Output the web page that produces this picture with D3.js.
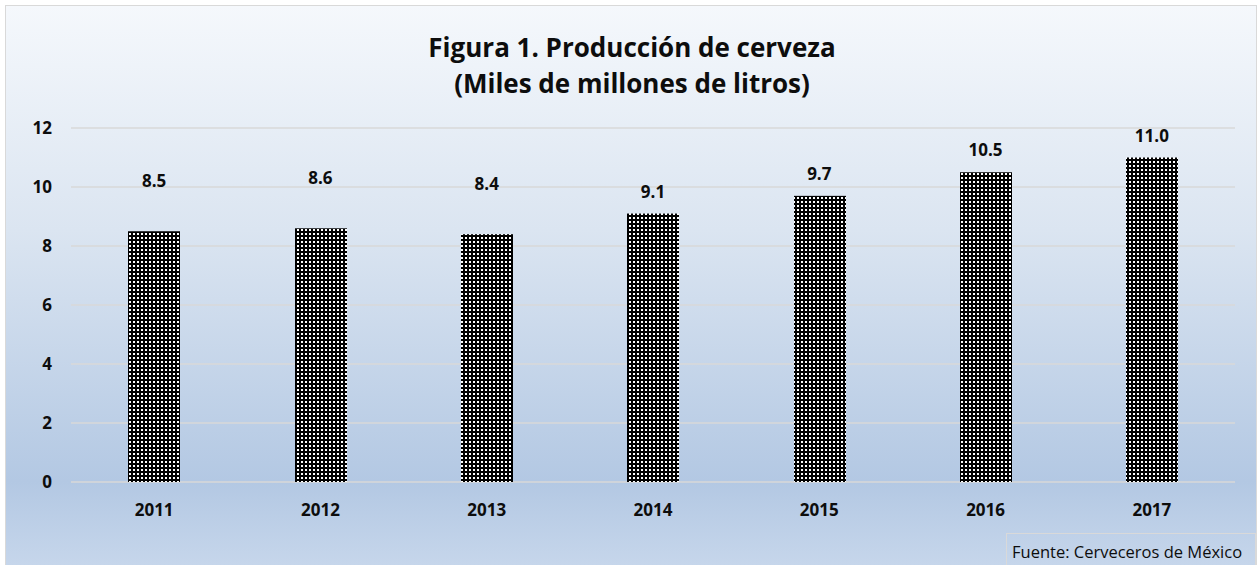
<!DOCTYPE html>
<html>
<head>
<meta charset="utf-8">
<script src="https://cdn.jsdelivr.net/npm/d3@7"></script>
<style>
  body { margin: 0; background: #fff; }
  text { font-family: "Open Sans", "Noto Sans", sans-serif; }
</style>
</head>
<body>
<script>
// data
var years = ['2011', '2012', '2013', '2014', '2015', '2016', '2017'];
var production = [8.5, 8.6, 8.4, 9.1, 9.7, 10.5, 11.0];
var yTicks = [0, 2, 4, 6, 8, 10, 12];

var width = 1257, height = 565;

// plot area (note: "top" is a read-only global in browsers, so use other names)
var plotLeft = 71, plotRight = 1235, plotTop = 128, plotBottom = 482;

var svg = d3.select('body').append('svg')
    .attr('width', width)
    .attr('height', height);

var defs = svg.append('defs');

// background gradient, light at the top, bluer toward the bottom
var grad = defs.append('linearGradient')
    .attr('id', 'bg')
    .attr('x1', 0).attr('y1', 0).attr('x2', 0).attr('y2', 1);
grad.append('stop').attr('offset', '0%').attr('stop-color', '#f5f8fc');
grad.append('stop').attr('offset', '40%').attr('stop-color', '#dbe5f1');
grad.append('stop').attr('offset', '85%').attr('stop-color', '#b3c8e3');
grad.append('stop').attr('offset', '100%').attr('stop-color', '#c6d6eb');

// dotted fill: black with small white squares
var pat = defs.append('pattern')
    .attr('id', 'dots')
    .attr('patternUnits', 'userSpaceOnUse')
    .attr('width', 4).attr('height', 4);
pat.append('rect').attr('width', 4).attr('height', 4).attr('fill', '#000');
pat.append('rect').attr('x', 1).attr('y', 1).attr('width', 2).attr('height', 2).attr('fill', '#fff');

svg.append('rect')
    .attr('x', 5.5).attr('y', 5.5)
    .attr('width', width - 6).attr('height', height - 5)
    .attr('fill', 'url(#bg)')
    .attr('stroke', '#d9d9d9');

var x = d3.scaleBand()
    .domain(years)
    .range([plotLeft, plotRight])
    .paddingInner(0.69)
    .paddingOuter(0.345);

var y = d3.scaleLinear()
    .domain([0, 12])
    .range([plotBottom, plotTop]);

// gridlines
svg.append('g')
    .selectAll('line')
    .data(yTicks)
    .enter().append('line')
    .attr('x1', plotLeft).attr('x2', plotRight)
    .attr('y1', function(d) { return y(d); })
    .attr('y2', function(d) { return y(d); })
    .attr('stroke', '#d9d9d9')
    .attr('stroke-width', 1.3);

// y axis labels
svg.append('g')
    .selectAll('text')
    .data(yTicks)
    .enter().append('text')
    .attr('x', 52)
    .attr('y', function(d) { return y(d) + 6; })
    .attr('text-anchor', 'end')
    .attr('font-size', 17)
    .attr('font-weight', 'bold')
    .attr('fill', '#0d0d0d')
    .text(function(d) { return d; });

// bars
svg.append('g')
    .selectAll('rect')
    .data(production)
    .enter().append('rect')
    .attr('x', function(d, i) { return Math.round(x(years[i])); })
    .attr('y', function(d) { return y(d); })
    .attr('width', Math.round(x.bandwidth()))
    .attr('height', function(d) { return y(0) - y(d); })
    .attr('fill', 'url(#dots)');

// value labels; the first three were dragged up by hand in the original
var labelGap = [44, 44, 44, 16, 16, 16, 16];
svg.append('g')
    .selectAll('text')
    .data(production)
    .enter().append('text')
    .attr('x', function(d, i) { return x(years[i]) + x.bandwidth() / 2; })
    .attr('y', function(d, i) { return y(d) - labelGap[i]; })
    .attr('text-anchor', 'middle')
    .attr('font-size', 17)
    .attr('font-weight', 'bold')
    .attr('fill', '#0d0d0d')
    .text(function(d) { return d.toFixed(1); });

// category labels
svg.append('g')
    .selectAll('text')
    .data(years)
    .enter().append('text')
    .attr('x', function(d) { return x(d) + x.bandwidth() / 2; })
    .attr('y', plotBottom + 34)
    .attr('text-anchor', 'middle')
    .attr('font-size', 17)
    .attr('font-weight', 'bold')
    .attr('fill', '#0d0d0d')
    .text(function(d) { return d; });

// title
var title = svg.append('text')
    .attr('text-anchor', 'middle')
    .attr('font-size', 26)
    .attr('font-weight', 'bold')
    .attr('fill', '#0d0d0d');
title.append('tspan').attr('x', 632).attr('y', 57).text('Figura 1. Producción de cerveza');
title.append('tspan').attr('x', 632).attr('y', 93).text('(Miles de millones de litros)');

// source box
svg.append('rect')
    .attr('x', 1006.5).attr('y', 533.5)
    .attr('width', 249).attr('height', 34)
    .attr('fill', 'none')
    .attr('stroke', '#d9d9d9');
svg.append('text')
    .attr('x', 1012)
    .attr('y', 558)
    .attr('font-size', 16.5)
    .attr('fill', '#0d0d0d')
    .text('Fuente: Cerveceros de México');
</script>
</body>
</html>
